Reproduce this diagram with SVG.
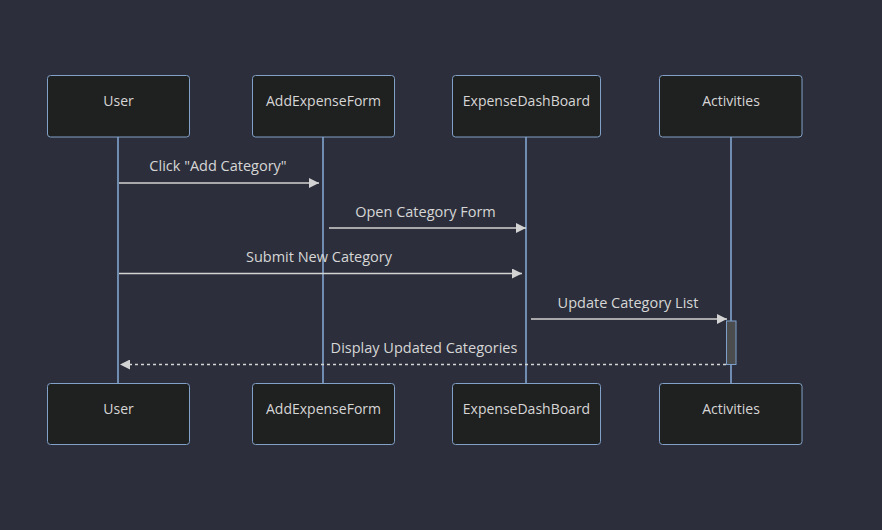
<svg xmlns="http://www.w3.org/2000/svg" width="882" height="530" viewBox="0 0 882 530">
<defs>
<style>
.actor rect{fill:#1f2020;stroke:#81a1c8;stroke-width:1}
.actor text{fill:#d6d6d6;font-family:"Open Sans","DejaVu Sans",sans-serif;font-size:14px;text-anchor:middle;dominant-baseline:central}
.life{stroke:#82a4d0;stroke-width:1.6}
.msg{stroke:#d3d3d3;stroke-width:1.5;fill:none}
.dash{stroke-dasharray:3,3}
.lbl{fill:#d6d6d6;font-family:"Open Sans","DejaVu Sans",sans-serif;font-size:14.5px;text-anchor:middle;dominant-baseline:central}
</style>
<marker id="arr" viewBox="0 0 10 10" refX="10" refY="5" markerWidth="10" markerHeight="10" markerUnits="userSpaceOnUse" orient="auto">
<path d="M0,0 L10,5 L0,10 z" fill="#d3d3d3"/>
</marker>
</defs>
<rect width="882" height="530" fill="#2c2f3b"/>
<g id="lifelines">
<line class="life" x1="118" y1="137" x2="118" y2="384"/>
<line class="life" x1="323" y1="137" x2="323" y2="384"/>
<line class="life" x1="526" y1="137" x2="526" y2="384"/>
<line class="life" x1="731" y1="137" x2="731" y2="384"/>
</g>
<g id="actor-User-top" class="actor"><rect x="47.5" y="75.5" width="142" height="61.5" rx="3"/><text x="118.5" y="100.5">User</text></g>
<g id="actor-AddExpenseForm-top" class="actor"><rect x="252.5" y="75.5" width="142" height="61.5" rx="3"/><text x="323.5" y="100.5">AddExpenseForm</text></g>
<g id="actor-ExpenseDashBoard-top" class="actor"><rect x="452.5" y="75.5" width="148" height="61.5" rx="3"/><text x="526.5" y="100.5">ExpenseDashBoard</text></g>
<g id="actor-Activities-top" class="actor"><rect x="659.5" y="75.5" width="142.5" height="61.5" rx="3"/><text x="731" y="100.5">Activities</text></g>
<g id="actor-User-bottom" class="actor"><rect x="47.5" y="383.5" width="142" height="61" rx="3"/><text x="118.5" y="408.5">User</text></g>
<g id="actor-AddExpenseForm-bottom" class="actor"><rect x="252.5" y="383.5" width="142" height="61" rx="3"/><text x="323.5" y="408.5">AddExpenseForm</text></g>
<g id="actor-ExpenseDashBoard-bottom" class="actor"><rect x="452.5" y="383.5" width="148" height="61" rx="3"/><text x="526.5" y="408.5">ExpenseDashBoard</text></g>
<g id="actor-Activities-bottom" class="actor"><rect x="659.5" y="383.5" width="142.5" height="61" rx="3"/><text x="731" y="408.5">Activities</text></g>
<g id="activation-Activities"><rect x="726.5" y="321" width="9.5" height="43.5" fill="#4a4c4e" stroke="#7d9fcb" stroke-width="1"/></g>
<g id="connectors">
<line class="msg" x1="119" y1="183" x2="319" y2="183" marker-end="url(#arr)"/>
<line class="msg" x1="329" y1="228" x2="526" y2="228" marker-end="url(#arr)"/>
<line class="msg" x1="119" y1="273.5" x2="522" y2="273.5" marker-end="url(#arr)"/>
<line class="msg" x1="531" y1="319" x2="727" y2="319" marker-end="url(#arr)"/>
<line class="msg dash" x1="726" y1="364.5" x2="120" y2="364.5" marker-end="url(#arr)"/>
<text class="lbl" x="218" y="165">Click "Add Category"</text>
<text class="lbl" x="425.5" y="211">Open Category Form</text>
<text class="lbl" x="319" y="256">Submit New Category</text>
<text class="lbl" x="628" y="302">Update Category List</text>
<text class="lbl" x="424" y="347">Display Updated Categories</text>
</g>
</svg>
